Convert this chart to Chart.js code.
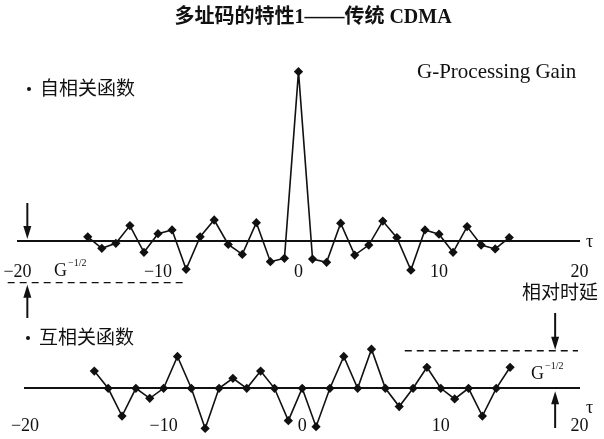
<!DOCTYPE html>
<html>
<head>
<meta charset="utf-8">
<script src="https://cdn.jsdelivr.net/npm/chart.js@4.4.0/dist/chart.umd.min.js"></script>
<style>
  body { margin: 0; background: #fff; }
  #wrap { position: relative; width: 604px; height: 439px; }
  canvas { position: absolute; left: 0; top: 0; }
</style>
</head>
<body>
<div id="wrap">
  <canvas id="auto" width="604" height="439"></canvas>
  <canvas id="cross" width="604" height="439"></canvas>
</div>
<script>
// relative delay tau
var lags = [-15, -14, -13, -12, -11, -10, -9, -8, -7, -6, -5, -4, -3, -2, -1, 0,
            1, 2, 3, 4, 5, 6, 7, 8, 9, 10, 11, 12, 13, 14, 15];
// autocorrelation, normalised to the peak
var autoValues = [0.025, -0.043, -0.014, 0.091, -0.067, 0.043, 0.065, -0.167, 0.025, 0.124,
                  -0.020, -0.079, 0.108, -0.122, -0.102, 1.0, -0.107, -0.126, 0.105, -0.083,
                  -0.024, 0.118, 0.020, -0.172, 0.065, 0.040, -0.067, 0.085, -0.024, -0.047, 0.020];
// cross-correlation, same scale
var crossValues = [0.102, 0, -0.164, 0, -0.059, 0, 0.188, 0, -0.237, 0,
                   0.059, 0, 0.102, 0, -0.191, 0, -0.227, 0, 0.188, 0,
                   0.231, 0, -0.108, 0, 0.124, 0, -0.063, 0, -0.164, 0, 0.124];
// G^-1/2 levels (dashed) and where the dashes run
var autoLevel = [-0.246];
var autoLevelSpan = [-20.7, -8.1];
var crossLevel = [0.222];
var crossLevelSpan = [7.4, 19.9];
var tauRange = [-20, 20];
var tickStep = 10;

var ink = '#111';
var serif = '"Liberation Serif", "DejaVu Serif", serif';
var cjk = '"Noto Sans CJK SC", "Noto Sans", sans-serif';

function points(xs, ys) {
  var out = [];
  for (var i = 0; i < xs.length; i++) {
    out.push({x: xs[i], y: ys[i]});
  }
  return out;
}

function arrow(ctx, x, yFrom, yTo) {
  var dir = yTo > yFrom ? 1 : -1;
  ctx.save();
  ctx.strokeStyle = ink;
  ctx.fillStyle = ink;
  ctx.lineWidth = 2;
  ctx.beginPath();
  ctx.moveTo(x, yFrom);
  ctx.lineTo(x, yTo - dir * 10);
  ctx.stroke();
  ctx.beginPath();
  ctx.moveTo(x, yTo);
  ctx.lineTo(x - 4, yTo - dir * 13);
  ctx.lineTo(x + 4, yTo - dir * 13);
  ctx.closePath();
  ctx.fill();
  ctx.restore();
}

function gLabel(ctx, x, y) {
  ctx.save();
  ctx.fillStyle = ink;
  ctx.textBaseline = 'middle';
  ctx.textAlign = 'left';
  ctx.font = '18px ' + serif;
  ctx.fillText('G', x, y);
  ctx.font = '10px ' + serif;
  ctx.fillText('\u22121/2', x + 14, y - 8);
  ctx.restore();
}

function text(ctx, str, x, y, font, align) {
  ctx.save();
  ctx.fillStyle = ink;
  ctx.font = font;
  ctx.textAlign = align || 'left';
  ctx.textBaseline = 'middle';
  ctx.fillText(str, x, y);
  ctx.restore();
}

function bulletText(ctx, str, x, y) {
  ctx.save();
  ctx.fillStyle = ink;
  ctx.beginPath();
  ctx.arc(x, y + 1, 2, 0, Math.PI * 2);
  ctx.fill();
  ctx.restore();
  text(ctx, str, x + 11, y, '19px ' + cjk);
}

function scalesFor(yMin, yMax, tickPad) {
  return {
    x: {
      type: 'linear',
      min: tauRange[0],
      max: tauRange[1],
      position: {y: 0},
      grid: {display: false, drawTicks: false},
      border: {display: true, color: ink, width: 2},
      afterFit: function (scale) {
        // let the end labels hang over, keep the axis where the padding says
        scale.paddingLeft = 0;
        scale.paddingRight = 0;
      },
      ticks: {
        stepSize: tickStep,
        padding: tickPad,
        color: ink,
        font: {family: serif, size: 18},
        callback: function (v) { return String(v).replace('-', '\u2212'); }
      }
    },
    y: {display: false, min: yMin, max: yMax}
  };
}

function datasetsFor(values, level, span) {
  return [
    {
      data: points(lags, values),
      borderColor: ink,
      backgroundColor: ink,
      borderWidth: 1.6,
      pointStyle: 'rectRot',
      pointRadius: 3.5,
      clip: false
    },
    {
      data: points(span, [level[0], level[0]]),
      borderColor: ink,
      borderWidth: 1.4,
      borderDash: [7, 5],
      pointRadius: 0,
      clip: false
    }
  ];
}

var common = {
  responsive: false,
  animation: false,
  plugins: {legend: {display: false}, tooltip: {enabled: false}},
  elements: {line: {tension: 0}}
};

var autoNotes = {
  id: 'autoNotes',
  afterDraw: function (chart) {
    var ctx = chart.ctx;
    var xs = chart.scales.x, ys = chart.scales.y;
    text(ctx, '多址码的特性1——传统 CDMA', 313, 18, 'bold 20px "Liberation Serif", ' + cjk, 'center');
    bulletText(ctx, '自相关函数', 29, 88);
    text(ctx, 'G-Processing Gain', 417, 72, '21px ' + serif);
    text(ctx, '\u03c4', 586, 242, '18px ' + serif);
    gLabel(ctx, 54, 271);
    var ax = xs.getPixelForValue(-19.3);
    arrow(ctx, ax, 203, ys.getPixelForValue(0) - 2);
    arrow(ctx, ax, 318, ys.getPixelForValue(autoLevel[0]) + 2);
  }
};

var crossNotes = {
  id: 'crossNotes',
  afterDraw: function (chart) {
    var ctx = chart.ctx;
    var xs = chart.scales.x, ys = chart.scales.y;
    bulletText(ctx, '互相关函数', 28, 337);
    text(ctx, '相对时延', 522, 292, '19px ' + cjk);
    text(ctx, '\u03c4', 586, 408, '18px ' + serif);
    gLabel(ctx, 531, 374);
    var ax = xs.getPixelForValue(18.25);
    arrow(ctx, ax, 313, ys.getPixelForValue(crossLevel[0]) - 1);
    arrow(ctx, ax, 428, ys.getPixelForValue(0) + 3);
  }
};

new Chart(document.getElementById('auto'), {
  type: 'line',
  data: {datasets: datasetsFor(autoValues, autoLevel, autoLevelSpan)},
  options: Object.assign({}, common, {
    layout: {autoPadding: false, padding: {left: 17.5, right: 24.5, top: 63.2, bottom: 147.2}},
    scales: scalesFor(-0.3, 1.05, 20)
  }),
  plugins: [autoNotes]
});

new Chart(document.getElementById('cross'), {
  type: 'line',
  data: {datasets: datasetsFor(crossValues, crossLevel, crossLevelSpan)},
  options: Object.assign({}, common, {
    layout: {autoPadding: false, padding: {left: 25, right: 24.6, top: 337.5, bottom: 1.6}},
    scales: scalesFor(-0.29, 0.3, 27)
  }),
  plugins: [crossNotes]
});
</script>
</body>
</html>
